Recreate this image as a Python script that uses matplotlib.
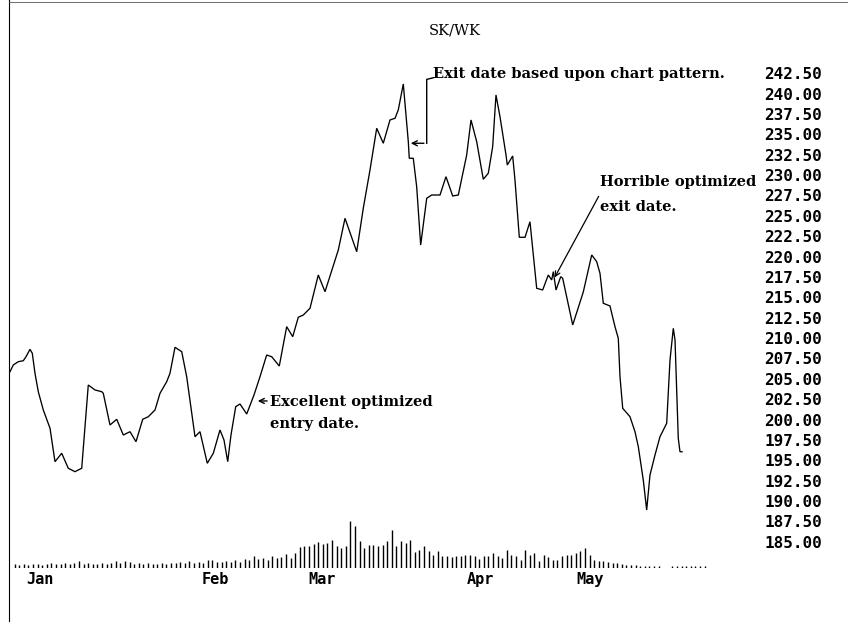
import numpy as np
import matplotlib
matplotlib.use("Agg")
import matplotlib.pyplot as plt
from matplotlib.lines import Line2D

# ---------------- data ----------------
day = [0.00, 0.72, 1.80, 2.89, 3.48, 4.35, 4.85, 5.43, 6.15, 7.24, 8.70, 9.78,
       11.24, 12.67, 14.13, 15.59, 17.02, 18.48, 19.93, 20.28, 21.74, 23.20,
       24.63, 26.09, 27.39, 28.85, 30.07, 31.52, 32.61, 34.07, 34.78, 35.87,
       37.33, 38.41, 40.22, 41.30, 42.89, 44.20, 45.65, 46.52, 47.33, 48.04,
       49.07, 50.00, 51.46, 53.04, 54.35, 55.80, 56.89, 58.54, 60.15, 61.46,
       62.67, 63.76, 65.22, 67.02, 68.48, 71.37, 72.83, 75.37, 76.80, 78.26,
       79.72, 81.15, 82.61, 83.70, 84.41, 85.50, 86.59, 86.80, 87.67, 88.41,
       89.28, 90.59, 91.67, 93.48, 94.78, 96.24, 97.46, 99.28, 100.22, 101.46,
       102.89, 103.98, 104.93, 105.65, 106.52, 107.83, 108.11, 109.28, 109.78,
       110.72, 111.96, 113.04, 114.50, 115.80, 117.02, 117.76, 118.11, 118.70,
       119.72, 120.15, 122.33, 124.63, 126.46, 127.54, 128.26, 128.98, 130.43,
       131.52, 132.24, 132.61, 133.20, 134.78, 135.87, 136.59, 137.67, 138.41,
       139.13, 140.22, 141.30, 142.76, 143.11, 143.48, 144.20, 144.57, 144.93,
       145.28, 145.65, 146.10]
price = [205.87, 206.70, 207.10, 207.22, 207.71, 208.62, 208.13, 205.68, 203.42,
         201.17, 198.93, 194.83, 195.86, 194.02, 193.60, 194.02, 204.24, 203.63,
         203.42, 203.22, 199.33, 200.03, 198.10, 198.51, 197.28, 200.03, 200.35,
         201.17, 203.22, 204.65, 205.68, 208.87, 208.33, 205.26, 197.89, 198.51,
         194.63, 195.86, 198.72, 197.49, 194.83, 198.10, 201.58, 201.91, 200.68,
         203.01, 205.26, 207.92, 207.71, 206.57, 211.40, 210.17, 212.55, 212.83,
         213.66, 217.74, 215.69, 220.81, 224.70, 220.60, 225.93, 230.63, 235.75,
         233.91, 236.77, 236.98, 238.00, 241.19, 234.10, 232.07, 232.07, 228.58,
         221.42, 227.16, 227.56, 227.56, 229.81, 227.44, 227.56, 232.47, 236.77,
         234.10, 229.49, 230.23, 233.49, 239.84, 237.17, 232.47, 231.24, 232.35,
         229.40, 222.37, 222.37, 224.28, 216.11, 215.90, 217.74, 217.13, 218.15,
         215.90, 217.53, 217.34, 211.61, 215.66, 220.20, 219.38, 217.95, 214.27,
         213.94, 211.40, 209.97, 205.26, 201.38, 200.35, 198.51, 196.67, 192.58,
         188.90, 193.19, 195.65, 197.89, 199.54, 203.26, 207.31, 211.20, 209.76,
         203.63, 197.70, 196.05, 196.05]

volume = [4, 3, 4, 3, 4, 4, 3, 4, 5, 4, 4, 5, 4, 5, 7, 4, 5, 4, 4, 5,
          4, 5, 7, 5, 7, 6, 4, 5, 4, 5, 4, 4, 5, 4, 5, 5, 6, 5, 7, 5,
          6, 5, 8, 8, 6, 6, 7, 6, 8, 6, 9, 8, 12, 9, 10, 8, 12, 10, 11, 14,
          10, 15, 21, 22, 22, 24, 26, 24, 25, 28, 22, 20, 22, 47, 42, 27, 20, 23, 23, 22,
          23, 27, 38, 22, 27, 25, 28, 16, 18, 22, 17, 13, 17, 12, 12, 11, 12, 12, 13, 13,
          12, 9, 12, 12, 15, 12, 10, 18, 13, 12, 8, 18, 13, 15, 7, 13, 11, 8, 8, 12,
          13, 13, 15, 17, 20, 13, 8, 7, 7, 6, 5, 5, 4, 3, 3, 3, 2, 2, 2, 2,
          2, 0, 0, 2, 2, 2, 2, 2, 2, 2, 2]

month_labels = ["Jan", "Feb", "Mar", "Apr", "May"]
month_days = [6.5, 44.6, 67.8, 102.2, 126.1]

price_ticks = [185.0 + 2.5 * i for i in range(24)]

title = "SK/WK"
note_entry = "Excellent optimized\nentry date."
note_exit = "Exit date based upon chart pattern."
note_bad = "Horrible optimized\nexit date."

# ---------------- figure ----------------
W, H = 848, 624
fig = plt.figure(figsize=(W / 100, H / 100), dpi=100)
fig.patch.set_facecolor("white")

ax_left = 10 / W
ax_w = 710 / W
ax = fig.add_axes([ax_left, 1 - 560 / H, ax_w, 500 / H])
ax.set_facecolor("none")
ax.set_xlim(0, 154.35)
ax.set_ylim(182.76, 244.13)
for s in ax.spines.values():
    s.set_visible(False)
ax.tick_params(axis="x", bottom=False, labelbottom=False)
ax.yaxis.tick_right()
ax.set_yticks(price_ticks)
ax.set_yticklabels([f"{v:.2f}" for v in price_ticks])
ax.tick_params(axis="y", right=False, length=0, pad=32,
               labelsize=11.5)
for lab in ax.get_yticklabels():
    lab.set_fontfamily("DejaVu Sans Mono")
    lab.set_fontweight("bold")
    lab.set_horizontalalignment("left")

ax.plot(day, price, color="black", lw=0.95, solid_joinstyle="miter")

# volume panel
axv = fig.add_axes([ax_left, 1 - 568 / H, ax_w, 60 / H])
axv.set_facecolor("none")
axv.set_xlim(0, 154.35)
axv.set_ylim(0, 60)
for s in axv.spines.values():
    s.set_visible(False)
axv.set_yticks([])
vdays = np.arange(1, len(volume) + 1)
axv.vlines(vdays, 0, volume, color="black", lw=1.0)
axv.set_xticks(month_days)
axv.set_xticklabels(month_labels)
axv.tick_params(axis="x", length=0, pad=3, labelsize=11)
for lab in axv.get_xticklabels():
    lab.set_fontfamily("DejaVu Sans Mono")
    lab.set_fontweight("bold")

# annotations
serif = dict(family="DejaVu Serif", fontweight="bold", fontsize=10.5, color="black")
ax.annotate("", xy=(53.26, 202.28), xytext=(56.5, 202.28),
            arrowprops=dict(arrowstyle="->", lw=1.0, color="black", mutation_scale=9))
ax.text(56.6, 203.0, note_entry, ha="left", va="top", linespacing=1.75, **serif)

ax.plot([92.02, 90.59, 90.59], [241.95, 241.75, 233.91], color="black", lw=1.0)
ax.annotate("", xy=(86.52, 233.91), xytext=(90.59, 233.91),
            arrowprops=dict(arrowstyle="->", lw=1.0, color="black", mutation_scale=9))
ax.text(92.0, 242.45, note_exit, ha="left", va="center", **serif)

ax.annotate("", xy=(118.11, 217.13), xytext=(128.26, 227.69),
            arrowprops=dict(arrowstyle="->", lw=0.9, color="black", mutation_scale=9))
ax.text(128.26, 230.0, note_bad, ha="left", va="top", linespacing=1.95, **serif)

fig.text(455 / W, 1 - 31 / H, title, ha="center", va="center",
         family="DejaVu Serif", fontsize=10.5, color="black")

# scanned frame lines (left and top)
fig.add_artist(Line2D([9 / W, 9 / W], [0.005, 1.0], transform=fig.transFigure,
                      color="black", lw=0.8))
fig.add_artist(Line2D([9 / W, 1.0], [1 - 2 / H, 1 - 2 / H], transform=fig.transFigure,
                      color="#555555", lw=0.6))

fig.savefig("out.png", dpi=100, facecolor="white")
